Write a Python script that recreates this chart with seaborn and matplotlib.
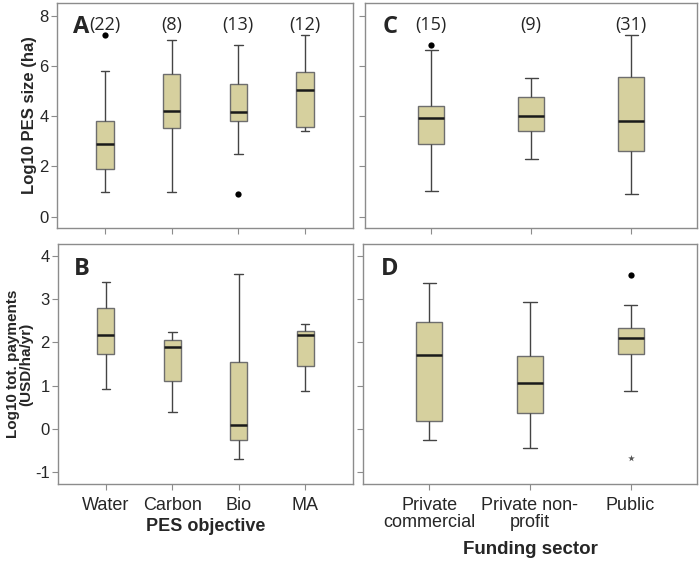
import numpy as np
import pandas as pd
import seaborn as sns
from matplotlib import pyplot as plt

sns.set_style("white")
plt.rcParams['font.family'] = ['Liberation Sans', 'DejaVu Sans']
plt.rcParams['axes.unicode_minus'] = False

# PES objective groups (panels A, B)
objectives = ["Water", "Carbon", "Bio", "MA"]
objective_n = [22, 8, 13, 12]
# five-number summaries: low whisker, q1, median, q3, high whisker
size_obj = {"Water": [1.0, 1.9, 2.9, 3.8, 5.8],
            "Carbon": [1.0, 3.53, 4.22, 5.66, 7.02],
            "Bio": [2.5, 3.8, 4.16, 5.26, 6.82],
            "MA": [3.4, 3.56, 5.02, 5.76, 7.22]}
size_obj_outliers = {"Water": [7.22], "Bio": [0.91]}

pay_obj = {"Water": [0.92, 1.74, 2.18, 2.79, 3.40],
           "Carbon": [0.40, 1.11, 1.89, 2.05, 2.24],
           "Bio": [-0.69, -0.25, 0.09, 1.55, 3.57],
           "MA": [0.88, 1.46, 2.16, 2.26, 2.43]}

# Funding sector groups (panels C, D)
sectors = ["Private\ncommercial", "Private non-\nprofit", "Public"]
sector_n = [15, 9, 31]
size_sec = {"Private\ncommercial": [1.01, 2.90, 3.92, 4.42, 6.64],
            "Private non-\nprofit": [2.30, 3.40, 4.00, 4.76, 5.52],
            "Public": [0.90, 2.60, 3.80, 5.57, 7.23]}
size_sec_outliers = {"Private\ncommercial": [6.84]}

pay_sec = {"Private\ncommercial": [-0.26, 0.19, 1.71, 2.46, 3.38],
           "Private non-\nprofit": [-0.44, 0.38, 1.05, 1.69, 2.94],
           "Public": [0.88, 1.74, 2.09, 2.34, 2.86]}
pay_sec_outliers = {"Public": [3.56]}
pay_sec_extremes = {"Public": [-0.68]}

BOX = "#d6d09e"
EDGE = "#6e6e6e"
SPINE = "#8c8c8c"


def toFrame(summary):
    # rebuild a small sample whose quartiles equal the read summary
    rows = []
    for cat, (lo, q1, med, q3, hi) in summary.items():
        for v in [lo, q1, q1, q1, med, q3, q3, q3, hi]:
            rows.append((cat, v))
    return pd.DataFrame(rows, columns=["cat", "val"])


def pointFrame(points):
    rows = [(cat, v) for cat, vals in points.items() for v in vals]
    return pd.DataFrame(rows, columns=["cat", "val"])


def drawPanel(ax, summary, order, outliers=None, extremes=None):
    sns.boxplot(data=toFrame(summary), x="cat", y="val", order=order, ax=ax,
                whis=(0, 100), showfliers=False, width=0.26, color=BOX,
                linewidth=1.0, saturation=1,
                boxprops=dict(facecolor=BOX, edgecolor=EDGE),
                whiskerprops=dict(color="#444444"),
                capprops=dict(color="#444444"),
                medianprops=dict(color="#1a1a1a", linewidth=1.8))
    if outliers:
        sns.stripplot(data=pointFrame(outliers), x="cat", y="val", order=order, ax=ax,
                      jitter=False, color="black", size=4.5, marker="o")
    if extremes:
        sns.stripplot(data=pointFrame(extremes), x="cat", y="val", order=order, ax=ax,
                      jitter=False, color="#555555", size=5, marker="*")
    for s in ax.spines.values():
        s.set_color(SPINE)
        s.set_linewidth(1.0)
    ax.tick_params(axis="both", direction="out", length=4, color=SPINE,
                   labelsize=12, left=True, bottom=True, pad=2)
    ax.set_xlabel("")
    ax.set_ylabel("")


fig = plt.figure(figsize=(6.99, 5.65), dpi=100)
W, H = 699, 565
def rect(l, t, r, b):
    return [l / W, 1 - b / H, (r - l) / W, (b - t) / H]

axA = fig.add_axes(rect(57, 3, 353, 228))
axC = fig.add_axes(rect(365, 3, 697, 228))
axB = fig.add_axes(rect(58, 244, 353, 484))
axD = fig.add_axes(rect(363, 244, 697, 484))

drawPanel(axA, size_obj, objectives, outliers=size_obj_outliers)
drawPanel(axC, size_sec, sectors, outliers=size_sec_outliers)
drawPanel(axB, pay_obj, objectives)
drawPanel(axD, pay_sec, sectors, outliers=pay_sec_outliers, extremes=pay_sec_extremes)

for ax in (axA, axC):
    ax.set_ylim(-0.45, 8.5)
    ax.set_yticks([0, 2, 4, 6, 8])
    ax.set_xticklabels([])
for ax in (axB, axD):
    ax.set_ylim(-1.27, 4.27)
    ax.set_yticks([-1, 0, 1, 2, 3, 4])
for ax in (axA, axB):
    ax.set_xlim(-0.72, 3.72)
for ax in (axC, axD):
    ax.set_xlim(-0.66, 2.66)
    ax.set_yticklabels([])

axB.set_xticks(range(len(objectives)))
axB.set_xticklabels(objectives, fontsize=13)
axB.tick_params(axis="x", pad=5)
axD.set_xticks(range(len(sectors)))
axD.set_xticklabels(sectors, fontsize=13, linespacing=1.05)
axD.tick_params(axis="x", pad=5)

# group sizes above the boxes
for ax, ns in ((axA, objective_n), (axC, sector_n)):
    for i, n in enumerate(ns):
        ax.text(i, 7.62, f"({n})", ha="center", va="center", fontsize=13,
                family=["Open Sans", "DejaVu Sans"])

for ax, letter in ((axA, "A"), (axB, "B"), (axC, "C"), (axD, "D")):
    ax.text(0.053, 0.895, letter, transform=ax.transAxes, ha="left", va="center",
            fontsize=17, fontweight="bold", family=["Open Sans", "DejaVu Sans"])

axA.set_ylabel("Log10 PES size (ha)", fontsize=12, fontweight="bold", labelpad=2)
axB.set_ylabel("Log10 tot. payments\n(USD/ha/yr)", fontsize=11, fontweight="bold",
               labelpad=1, linespacing=0.95)
axB.set_xlabel("PES objective", fontsize=13, fontweight="bold", labelpad=3)
axD.set_xlabel("Funding sector", fontsize=13.5, fontweight="bold", labelpad=7)

fig.savefig("out.png", dpi=100)
